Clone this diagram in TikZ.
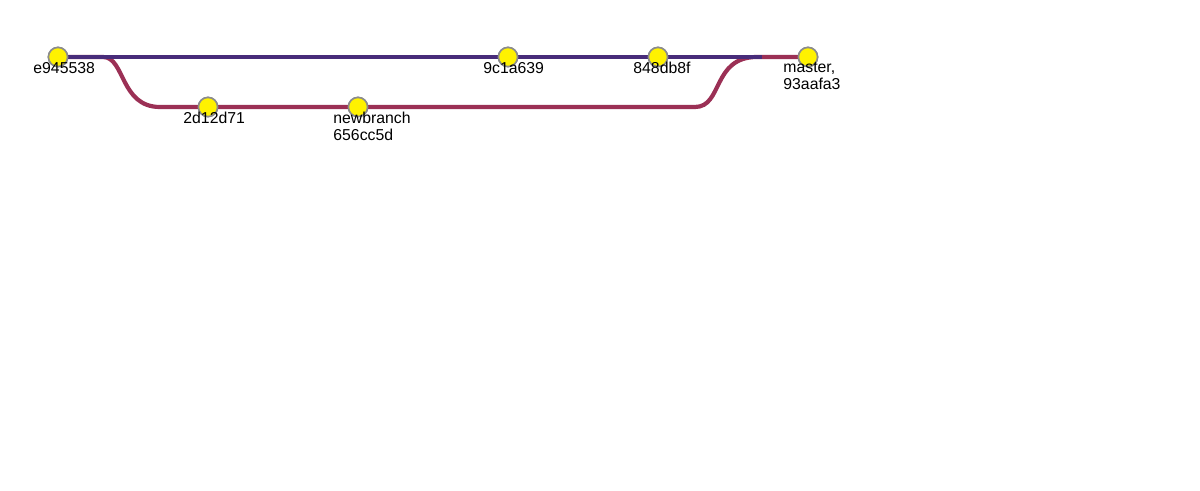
\documentclass[tikz,border=0pt]{standalone}
\usepackage{fontspec}
\setmainfont{Liberation Sans}
\usetikzlibrary{calc, positioning}

\definecolor{masterline}{RGB}{72,44,122}
\definecolor{branchline}{RGB}{155,48,85}
\definecolor{commitring}{RGB}{140,140,140}

\tikzset{
  commit/.style={circle, fill=yellow, draw=commitring, line width=0.8pt,
    minimum size=9.6pt, inner sep=0pt},
  sha/.style={anchor=north west, inner sep=0pt, font=\fontsize{7.9}{8.3}\selectfont,
    align=left},
  masteredge/.style={masterline, line width=2.1pt},
  branchedge/.style={branchline, line width=2.1pt}
}

\begin{document}
\begin{tikzpicture}[x=0.5pt,y=-0.5pt]
\useasboundingbox (0,0) rectangle (1200,491);

% Commits, one column every 150px.
\node[commit] (e945538) at (58,57) {};
\node[commit] (2d12d71) at (208,107) {};
\node[commit] (656cc5d) at (358,107) {};
\node[commit] (9c1a639) at (508,57) {};
\node[commit] (848db8f) at (658,57) {};
\node[commit] (93aafa3) at (808,57) {};

% The side branch leaves e945538 and merges back into master.
\draw[branchedge] (e945538.center) -- ++(45,0)
  .. controls +(22,0) and +(-40,0) .. ++(57,50) -- (2d12d71.center)
  -- (656cc5d.center) -- (695,107)
  .. controls +(28,0) and +(-45,0) .. (757,57) -- (93aafa3.center);

% Master line on top.
\draw[masteredge] (e945538.center) -- (9c1a639.center)
  -- (848db8f.center) -- (762,57);
\draw[branchedge] (762,57) -- (93aafa3.center);

% Redraw the commits above the lines.
\foreach \c in {e945538,2d12d71,656cc5d,9c1a639,848db8f,93aafa3}
  \node[commit] at (\c) {};

% Labels.
\node[sha] (l1) at ($(e945538)+(-25,5)$) {e945538};
\node[sha] (l2) at ($(2d12d71)+(-25,5)$) {2d12d71};
\node[sha] (l3) at ($(656cc5d)+(-25,5)$) {newbranch\\656cc5d};
\node[sha] (l4) at ($(9c1a639)+(-25,5)$) {9c1a639};
\node[sha] (l5) at ($(848db8f)+(-25,5)$) {848db8f};
\node[sha] (l6) at ($(93aafa3)+(-25,5)$) {master,\\93aafa3};
\end{tikzpicture}
\end{document}
